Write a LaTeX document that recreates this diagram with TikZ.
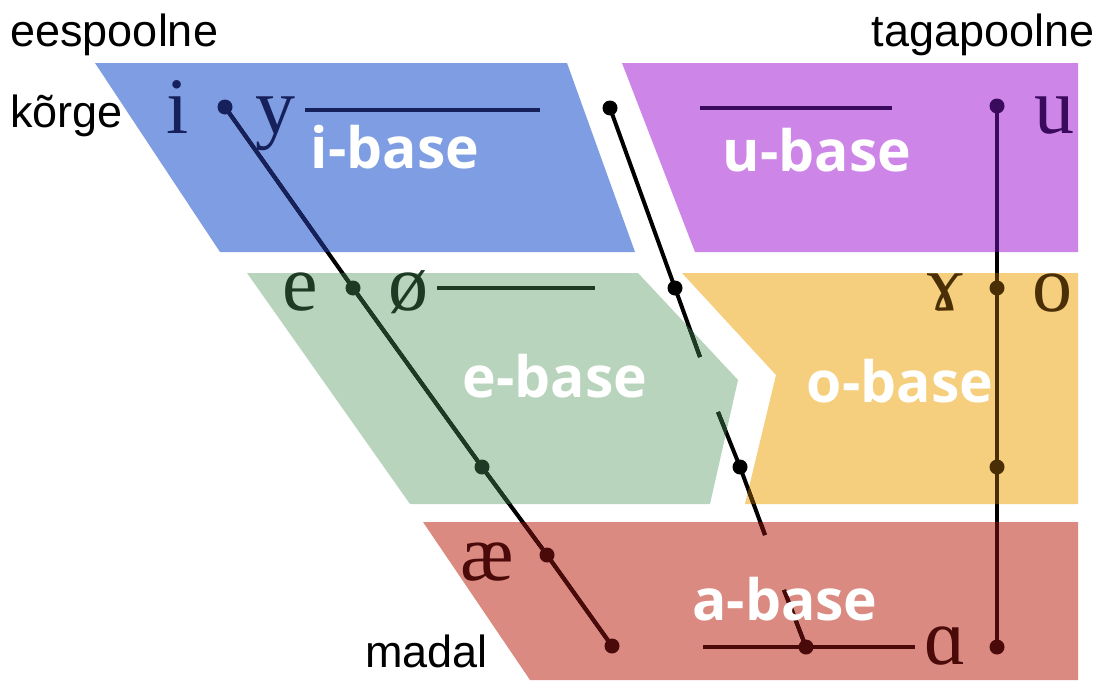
\documentclass[tikz,border=0pt]{standalone}
\usepackage{fontspec}
\setmainfont{Liberation Sans}
\newfontfamily\ipaface{Liberation Serif}
\newfontfamily\zoneface{Open Sans}

% zone fills
\definecolor{zoneI}{HTML}{7F9DE2}
\definecolor{zoneU}{HTML}{CE85E8}
\definecolor{zoneE}{HTML}{B8D4BC}
\definecolor{zoneO}{HTML}{F5CF7D}
\definecolor{zoneA}{HTML}{DA8A80}
% dark inks used inside each zone
\definecolor{inkI}{HTML}{16205A}
\definecolor{inkU}{HTML}{3A0A5C}
\definecolor{inkE}{HTML}{1C3A24}
\definecolor{inkO}{HTML}{4A2E05}
\definecolor{inkA}{HTML}{4A0A0A}

% outlines of the five vowel zones
\newcommand\shapeI{(95,63) -- (567,63) -- (635,252) -- (220,252) -- cycle}
\newcommand\shapeU{(622,63) -- (1078,63) -- (1078,252) -- (695,252) -- cycle}
\newcommand\shapeE{(247,273) -- (638,273) -- (738,380) -- (710,504) -- (410,504) -- cycle}
\newcommand\shapeO{(682,273) -- (1078,273) -- (1078,504) -- (745,504) -- (776,375) -- cycle}
\newcommand\shapeA{(423,522) -- (1078,522) -- (1078,680) -- (530,680) -- cycle}

% all connecting lines between the vowel points
\newcommand\wires{%
  \draw (dI) -- (dE1);
  \draw (dE1) -- (dE2);
  \draw (dE2) -- (dA1);
  \draw (dA1) -- (dA2);
  \draw (dM1) -- (dM2);
  \draw (dM2) -- (gapA);
  \draw (gapB) -- (dM3);
  \draw (dM3) -- (gapC);
  \draw (gapD) -- (dM4);
  \draw (dU) -- (dO1);
  \draw (dO1) -- (dO2);
  \draw (dO2) -- (dA3);
  \draw (barIa) -- (barIb);
  \draw (barEa) -- (barEb);
  \draw (barUa) -- (barUb);
  \draw (barAa) -- (dM4);
  \draw (dM4) -- (barAb);
}

\begin{document}
\begin{tikzpicture}[x=0.5pt,y=-0.5pt,
  wire/.style={line width=2pt},
  dot/.style={circle,inner sep=0pt,minimum size=7.5pt},
  vowel/.style={anchor=base,inner sep=0pt,font=\ipaface\fontsize{40}{40}\selectfont},
  zonelabel/.style={anchor=base,inner sep=0pt,text=white,font=\zoneface\bfseries\fontsize{28.5}{30}\selectfont},
  axislabel/.style={inner sep=0pt,font=\fontsize{22.5}{24}\selectfont}]

\useasboundingbox (0,0) rectangle (1101,680);
\fill[white] (0,0) rectangle (1101,680);

% zones
\fill[zoneI] \shapeI;
\fill[zoneU] \shapeU;
\fill[zoneE] \shapeE;
\fill[zoneO] \shapeO;
\fill[zoneA] \shapeA;

% points of the chart
\coordinate (dI)  at (225,107);
\coordinate (dE1) at (353,288);
\coordinate (dE2) at (482,467);
\coordinate (dA1) at (547,555);
\coordinate (dA2) at (612,646);
\coordinate (dM1) at (610,108);
\coordinate (dM2) at (675,288);
\coordinate (gapA) at (700,357);
\coordinate (gapB) at (718,412);
\coordinate (dM3) at (740,467);
\coordinate (gapC) at (765,535);
\coordinate (gapD) at (784,590);
\coordinate (dM4) at (806,647);
\coordinate (dU)  at (997,106);
\coordinate (dO1) at (997,288);
\coordinate (dO2) at (997,467);
\coordinate (dA3) at (997,647);
\coordinate (barIa) at (305,110);
\coordinate (barIb) at (540,110);
\coordinate (barEa) at (437,288);
\coordinate (barEb) at (595,288);
\coordinate (barUa) at (700,108);
\coordinate (barUb) at (892,108);
\coordinate (barAa) at (703,647);
\coordinate (barAb) at (915,647);

% lines: black in the gaps, tinted inside each zone
\begin{scope}[wire,draw=black]\wires\end{scope}
\begin{scope}\clip \shapeI; \begin{scope}[wire,draw=inkI]\wires\end{scope}\end{scope}
\begin{scope}\clip \shapeU; \begin{scope}[wire,draw=inkU]\wires\end{scope}\end{scope}
\begin{scope}\clip \shapeE; \begin{scope}[wire,draw=inkE]\wires\end{scope}\end{scope}
\begin{scope}\clip \shapeO; \begin{scope}[wire,draw=inkO]\wires\end{scope}\end{scope}
\begin{scope}\clip \shapeA; \begin{scope}[wire,draw=inkA]\wires\end{scope}\end{scope}

% dots
\node[dot,fill=inkI]  (pI)  at (dI)  {};
\node[dot,fill=inkE]  (pE1) at (dE1) {};
\node[dot,fill=inkE]  (pE2) at (dE2) {};
\node[dot,fill=inkA]  (pA1) at (dA1) {};
\node[dot,fill=inkA]  (pA2) at (dA2) {};
\node[dot,fill=black] (pM1) at (dM1) {};
\node[dot,fill=black] (pM2) at (dM2) {};
\node[dot,fill=black] (pM3) at (dM3) {};
\node[dot,fill=inkA]  (pM4) at (dM4) {};
\node[dot,fill=inkU]  (pU)  at (dU)  {};
\node[dot,fill=inkO]  (pO1) at (dO1) {};
\node[dot,fill=inkO]  (pO2) at (dO2) {};
\node[dot,fill=inkA]  (pA3) at (dA3) {};

% vowel symbols
\node[vowel,text=inkI] (vi)  at (178,133) {i};
\node[vowel,text=inkI] (vy)  at (275,133) {y};
\node[vowel,text=inkU] (vu)  at (1054,133) {u};
\node[vowel,text=inkE] (ve)  at (300,310) {e};
\node[vowel,text=inkE] (voe) at (408,310) {ø};
\node[vowel,text=inkO] (vgam) at (945,310) {ɤ};
\node[vowel,text=inkO] (vo)  at (1052,311) {o};
\node[vowel,text=inkA] (vae) at (487,580) {æ};
\node[vowel,text=inkA] (va)  at (945,664) {ɑ};

% zone names
\node[zonelabel] (lI) at (395,168) {i-base};
\node[zonelabel] (lU) at (817,171) {u-base};
\node[zonelabel] (lE) at (555,397) {e-base};
\node[zonelabel] (lO) at (900,402) {o-base};
\node[zonelabel] (lA) at (785,620) {a-base};

% axis labels
\node[axislabel,anchor=base west] (front) at (10,46) {eespoolne};
\node[axislabel,anchor=base east] (back)  at (1095,46) {tagapoolne};
\node[axislabel,anchor=base west] (high)  at (10,127) {kõrge};
\node[axislabel,anchor=base east] (low)   at (488,667) {madal};
\end{tikzpicture}
\end{document}
